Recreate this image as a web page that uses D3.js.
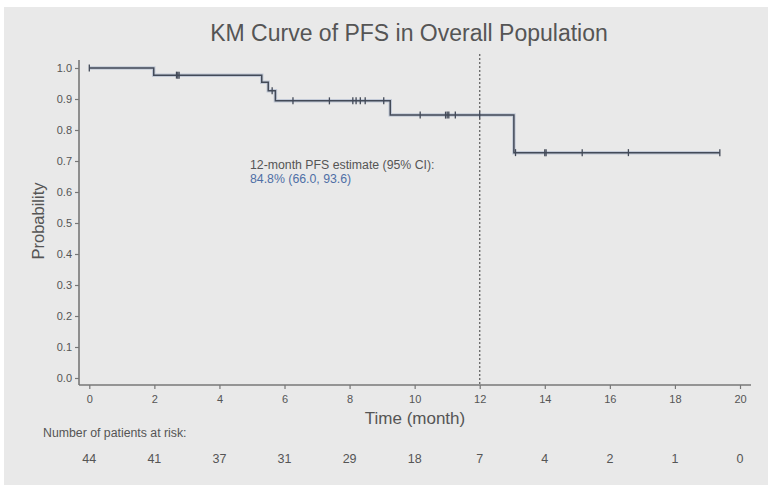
<!DOCTYPE html>
<html>
<head>
<meta charset="utf-8">
<script src="https://cdn.jsdelivr.net/npm/d3@7"></script>
<style>
  body { margin: 0; background: #fff; }
  text { font-family: "Liberation Sans", Arial, sans-serif; fill: #555; }
</style>
</head>
<body>
<div id="kmchart"></div>
<script>
// KM step points (time in months, survival probability)
var stepTimes = [0, 1.98, 5.3, 5.5, 5.72, 9.25, 13.05];
var survival = [1.0, 0.977, 0.954, 0.927, 0.894, 0.848, 0.727];
var endTime = 19.38;

// censored observations
var censorTimes = [0, 2.68, 2.72, 2.76, 5.62, 6.26, 7.38, 8.1, 8.2, 8.33, 8.48, 9.05,
                   10.17, 10.95, 11.0, 11.05, 11.25, 12.0, 13.1, 14.0, 14.04, 15.15, 16.57, 19.38];

var xTicks = [0, 2, 4, 6, 8, 10, 12, 14, 16, 18, 20];
var yTicks = [0, 0.1, 0.2, 0.3, 0.4, 0.5, 0.6, 0.7, 0.8, 0.9, 1.0];
var atRisk = [44, 41, 37, 31, 29, 18, 7, 4, 2, 1, 0];

var landmark = 12;
var estLabel = "12-month PFS estimate (95% CI):";
var estValue = "84.8% (66.0, 93.6)";

function init() {
  var w = 768;
  var h = 485;

  var svg = d3.select("#kmchart")
              .append("svg")
              .attr("width", w)
              .attr("height", h);

  svg.append("rect")
     .attr("x", 4).attr("y", 7)
     .attr("width", w - 4).attr("height", h - 7)
     .attr("fill", "#e9e9e9");

  var xScale = d3.scaleLinear().domain([0, 20]).range([89.3, 740]);
  var yScale = d3.scaleLinear().domain([0, 1]).range([378, 68]);

  // step data
  var pts = stepTimes.map(function(t, i) { return { t: t, s: survival[i] }; });
  pts.push({ t: endTime, s: survival[survival.length - 1] });

  function survAt(t) {
    var s = survival[0];
    for (var i = 0; i < stepTimes.length; i++) {
      if (stepTimes[i] <= t) s = survival[i];
    }
    return s;
  }

  // axes
  var xAxis = d3.axisBottom(xScale)
                .tickValues(xTicks)
                .tickSize(4)
                .tickPadding(6)
                .tickFormat(d3.format("d"));

  var gx = svg.append("g")
     .attr("transform", "translate(0,385)")
     .call(xAxis);
  gx.select(".domain").remove();
  gx.append("line").attr("x1", 79).attr("x2", 751).attr("y1", 0).attr("y2", 0);

  var yAxis = d3.axisLeft(yScale)
                .tickValues(yTicks)
                .tickSize(4)
                .tickPadding(3)
                .tickFormat(d3.format(".1f"));

  var gy = svg.append("g")
     .attr("transform", "translate(79,0)")
     .call(yAxis);
  gy.select(".domain").remove();
  gy.append("line").attr("x1", 0).attr("x2", 0).attr("y1", 60).attr("y2", 385);

  svg.selectAll(".tick line, g > line").attr("stroke", "#777").attr("stroke-width", 1.2);
  gx.select("line:last-child").attr("stroke-width", 1.6);
  gy.select("line:last-child").attr("stroke-width", 1.6);
  svg.selectAll(".tick text")
     .style("font-family", "Liberation Sans, Arial, sans-serif")
     .style("font-size", "11px")
     .attr("fill", "#666");

  // 12-month reference line
  svg.append("line")
     .attr("x1", xScale(landmark)).attr("x2", xScale(landmark))
     .attr("y1", 54).attr("y2", 385)
     .attr("stroke", "#666")
     .attr("stroke-width", 1.3)
     .attr("stroke-dasharray", "2,2");

  // KM curve
  var line = d3.line()
               .x(function(d) { return xScale(d.t); })
               .y(function(d) { return yScale(d.s); })
               .curve(d3.curveStepAfter);

  svg.append("path")
     .datum(pts)
     .attr("d", line)
     .attr("fill", "none")
     .attr("stroke", "#aab6cc")
     .attr("stroke-width", 3.5)
     .attr("opacity", 0.6);

  svg.append("path")
     .datum(pts)
     .attr("d", line)
     .attr("fill", "none")
     .attr("stroke", "#434a58")
     .attr("stroke-width", 1.5);

  // censor marks
  svg.selectAll(".censor")
     .data(censorTimes)
     .enter()
     .append("line")
     .attr("class", "censor")
     .attr("x1", function(d) { return xScale(d); })
     .attr("x2", function(d) { return xScale(d); })
     .attr("y1", function(d) { return yScale(survAt(d)) - 3.5; })
     .attr("y2", function(d) { return yScale(survAt(d)) + 3.5; })
     .attr("stroke", "#434a58")
     .attr("stroke-width", 1.3);

  // title and labels
  svg.append("text")
     .attr("x", 409).attr("y", 41)
     .attr("text-anchor", "middle")
     .style("font-size", "23px")
     .attr("fill", "#4a4a4a")
     .text("KM Curve of PFS in Overall Population");

  svg.append("text")
     .attr("transform", "translate(44,221) rotate(-90)")
     .attr("text-anchor", "middle")
     .style("font-size", "16.5px")
     .text("Probability");

  svg.append("text")
     .attr("x", 415).attr("y", 424)
     .attr("text-anchor", "middle")
     .style("font-size", "17px")
     .attr("fill", "#4a4a4a")
     .text("Time (month)");

  svg.append("text")
     .attr("x", 250).attr("y", 168.5)
     .style("font-size", "12.3px")
     .attr("fill", "#444")
     .text(estLabel);

  svg.append("text")
     .attr("x", 250).attr("y", 183)
     .style("font-size", "12.3px")
     .style("fill", "#4f6fa6")
     .text(estValue);

  // number at risk table
  svg.append("text")
     .attr("x", 43).attr("y", 437)
     .style("font-size", "12.3px")
     .text("Number of patients at risk:");

  svg.selectAll(".risk")
     .data(atRisk)
     .enter()
     .append("text")
     .attr("class", "risk")
     .attr("x", function(d, i) { return xScale(xTicks[i]); })
     .attr("y", 462.5)
     .attr("text-anchor", "middle")
     .style("font-size", "12.5px")
     .text(function(d) { return d; });
}

window.onload = init;
</script>
</body>
</html>
